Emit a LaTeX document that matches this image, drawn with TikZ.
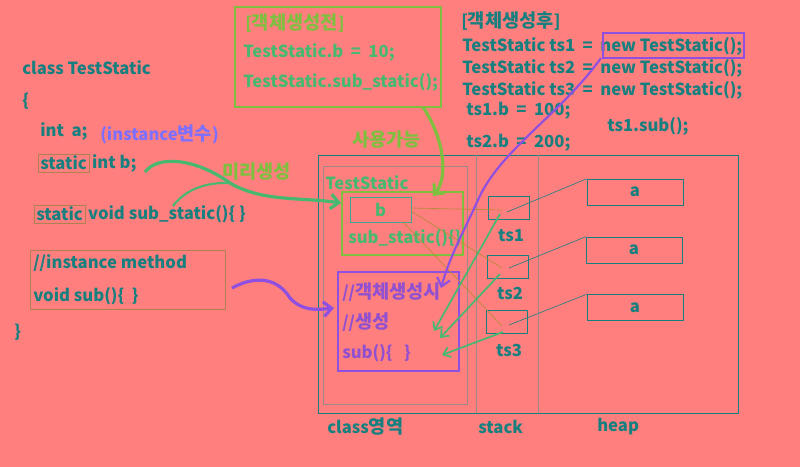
\documentclass[tikz,border=0pt]{standalone}
\usepackage{fontspec}
\setmainfont{Noto Sans CJK KR}
\usetikzlibrary{arrows.meta}
\definecolor{bgc}{HTML}{FF7F7F}
\definecolor{tealc}{HTML}{187F7F}
\definecolor{greenc}{HTML}{48B870}
\definecolor{yg}{HTML}{7FBF3F}
\definecolor{purp}{HTML}{8F4FE0}
\definecolor{purptxt}{HTML}{9050D0}
\definecolor{lav}{HTML}{7F6FFF}
\definecolor{olivel}{HTML}{B88A38}
\definecolor{boxol}{HTML}{B08050}
\definecolor{grayc}{HTML}{A08888}
\definecolor{tealg}{HTML}{3FA890}
\newcommand\kr[1]{{\fontsize{14}{16}\selectfont #1}}
\newcommand\eqsp{\hspace{0.45em}}
\tikzset{
  txt/.style={anchor=west,inner sep=0pt,font=\bfseries\fontsize{12.5}{14}\selectfont,text=tealc},
  ctxt/.style={txt,anchor=center},
  krlabel/.style={anchor=west,inner sep=0pt,font=\bfseries\fontsize{14}{16}\selectfont,text=yg},
  stackbox/.style={draw=tealc,minimum width=30.75pt,minimum height=17.25pt,inner sep=0pt},
  heapbox/.style={draw=tealc,minimum width=72pt,minimum height=19.5pt,inner sep=0pt,font=\bfseries\fontsize{12.5}{14}\selectfont,text=tealc},
  thinline/.style={draw=tealc,line width=0.45pt},
  refline/.style={draw=olivel,line width=0.5pt},
  garrow/.style={draw=greenc,line width=1.3pt,-{Straight Barb[length=5pt,width=8pt]}},
  thick curve/.style={line width=2.4pt,-{Straight Barb[length=6pt,width=11pt]}},
}
\begin{document}
\begin{tikzpicture}[x=0.75pt,y=-0.75pt]
\fill[bgc] (0,0) rectangle (800,467);
\useasboundingbox (0,0) rectangle (800,467);

% left class code
\node[txt] (cls) at (22,68) {class TestStatic};
\node[txt] (ob) at (22,101) {\{};
\node[txt] (inta) at (40,131) {int\ \ a;};
\node[txt,text=lav] (inst) at (100,134) {(instance\kr{변수})};
\node[txt,draw=boxol,inner sep=1.5pt] (st1) at (38,163) {static};
\node[txt] (intb) at ([xshift=2pt]st1.east) {int b;};
\node[txt,draw=boxol,inner sep=1.5pt] (st2) at (34,214) {static};
\node[txt] (subst) at ([xshift=2pt]st2.east) {void sub\_static()\{ \}};
\node[draw=boxol,minimum width=146.25pt,minimum height=44.25pt,inner sep=0pt] (imbox) at (127.5,279.5) {};
\node[txt] (im1) at (33,263) {//instance method};
\node[txt] (im2) at (33,296) {void sub()\{\ \ \}};
\node[txt] (cb) at (14,332) {\}};

% top green box
\node[draw=yg,line width=1.5pt,minimum width=154.5pt,minimum height=75pt,inner sep=0pt] (before) at (338,57) {};
\node[txt,text=yg] (bt) at (245,23) {[\kr{객체생성전}]};
\node[txt,text=greenc] (b1) at (243,52) {TestStatic.b\eqsp=\eqsp10;};
\node[txt,text=greenc] (b2) at (243,82) {TestStatic.sub\_static();};

% top right
\node[txt] (at) at (461,21) {[\kr{객체생성후}]};
\node[txt] (a1) at (462,46) {TestStatic ts1\eqsp=\eqsp new TestStatic();};
\node[txt] (a2) at (462,68) {TestStatic ts2\eqsp=\eqsp new TestStatic();};
\node[txt] (a3) at (462,90) {TestStatic ts3\eqsp=\eqsp new TestStatic();};
\node[txt] (a4) at (466,111) {ts1.b\eqsp=\eqsp100;};
\node[txt] (a5) at (607,126) {ts1.sub();};
\node[txt] (a6) at (466,143) {ts2.b\eqsp=\eqsp200;};
\node[draw=purp,line width=1.2pt,minimum width=105.75pt,minimum height=18.75pt,inner sep=0pt] (newbox) at (673.5,45.5) {};

\node[krlabel] (use) at (352,140) {사용가능};
\node[krlabel] (pre) at (222,172) {미리생성};

% memory area
\node[draw=tealc,minimum width=315pt,minimum height=193.5pt,inner sep=0pt] (mem) at (528,284) {};
\draw[grayc] (476,155) -- (476,413);
\draw[grayc] (538,155) -- (538,413);
\node[draw=grayc,minimum width=108pt,minimum height=178.5pt,inner sep=0pt] (clsarea) at (395,285) {};
\node[txt,text=greenc] (tsname) at (325,183) {TestStatic};
\node[draw=yg,line width=1.5pt,minimum width=90.75pt,minimum height=47.25pt,inner sep=0pt] (stat) at (402.5,223.5) {};
\node[draw=tealg,minimum width=45.75pt,minimum height=18.75pt,inner sep=0pt,font=\bfseries\fontsize{12.5}{14}\selectfont,text=greenc] (bbox) at (380.5,209.5) {b};
\node[txt,text=greenc] (ssub) at (348,238) {sub\_static()\{\}};
\node[draw=purp,line width=1.5pt,minimum width=90.75pt,minimum height=74.25pt,inner sep=0pt] (inbox) at (398.5,321.5) {};
\node[txt,text=purptxt] (p1) at (342,292) {//\kr{객체생성시}};
\node[txt,text=purptxt] (p2) at (342,322) {//\kr{생성}};
\node[txt,text=purptxt] (p3) at (342,353) {sub()\{\ \ \ \}};

% stack
\node[stackbox] (s1) at (508.5,207.5) {};
\node[stackbox] (s2) at (507.5,266.5) {};
\node[stackbox] (s3) at (507,321.5) {};
\node[ctxt] (l1) at (511,236) {ts1};
\node[ctxt] (l2) at (510,293) {ts2};
\node[ctxt] (l3) at (509,350) {ts3};

% heap
\node[heapbox] (h1) at (635,192) {a};
\node[heapbox] (h2) at (634,250) {a};
\node[heapbox] (h3) at (635,307.5) {a};

% labels
\node[txt] (lc) at (327,427) {class\kr{영역}};
\node[txt] (ls) at (478,427) {stack};
\node[txt] (lh) at (597,427) {heap};

% reference lines to heap
\coordinate (c1) at (507,212);
\coordinate (c2) at (509,268);
\coordinate (c3) at (509,325);
\draw[thinline] (c1) -- (h1.north west);
\draw[thinline] (c2) -- (h2.north west);
\draw[thinline] (c3) -- (h3.north west);

% olive lines to b
\coordinate (o1) at (502,210);
\coordinate (o2) at (502,268);
\coordinate (o3) at (502,326);
\coordinate (bb1) at (411,208);
\coordinate (bb2) at (411,211);
\coordinate (bb3) at (403,222);
\draw[refline] (o1) -- (bb1);
\draw[refline] (o2) -- (bb2);
\draw[refline] (o3) -- (bb3);

% green arrows to sub()
\coordinate (g1) at (500,214);
\coordinate (g2) at (500,274);
\coordinate (g3) at (503,332);
\coordinate (t1) at (434,331);
\coordinate (t2) at (440,338);
\coordinate (t3) at (442,355);
\draw[garrow] (g1) -- (t1);
\draw[garrow] (g2) -- (t2);
\draw[garrow] (g3) -- (t3);

% thick curves
\coordinate (u0) at (423,107);
\coordinate (u1) at (433,196);
\draw[thick curve,draw=yg] (u0) .. controls (445,140) and (448,178) .. (u1);

\coordinate (m0) at (145,172);
\coordinate (mm) at (230,183);
\coordinate (m1) at (341,203);
\coordinate (m2) at (173,206);
\draw[thick curve,draw=greenc] (m0) .. controls (158,155) and (195,158) .. (mm) .. controls (262,202) and (300,197) .. (m1);
\draw[line width=1.6pt,draw=greenc] (m2) .. controls (185,190) and (205,182) .. (mm);

\coordinate (q0) at (232,288);
\coordinate (qm) at (290,298);
\coordinate (q1) at (334,308);
\draw[thick curve,draw=purp] (q0) .. controls (250,278) and (275,274) .. (qm) .. controls (302,311) and (316,310) .. (q1);

\coordinate (r0) at (601,58);
\coordinate (rm) at (478,200);
\coordinate (r1) at (441,288);
\draw[line width=1.6pt,draw=purp,-{Straight Barb[length=6pt,width=10pt]}] (r0) .. controls (560,115) and (500,150) .. (rm) .. controls (462,235) and (450,256) .. (r1);
\end{tikzpicture}
\end{document}
